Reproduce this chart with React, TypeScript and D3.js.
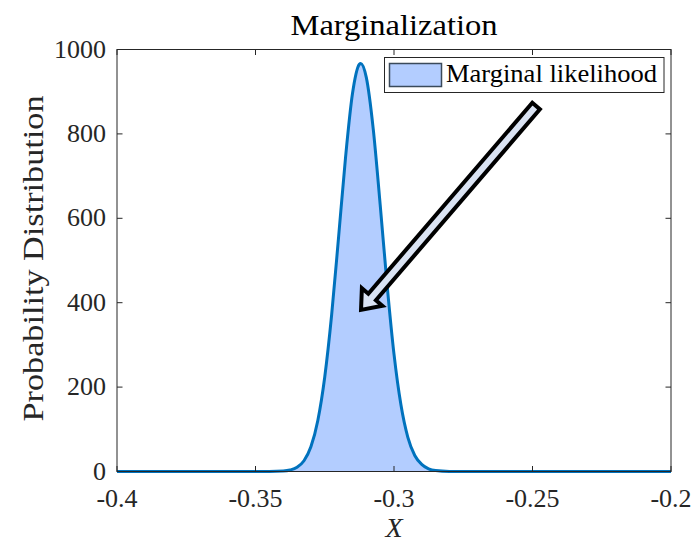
import React from "react";
import * as d3 from "d3";

const xValues = [
  -0.4, -0.345, -0.34, -0.3375, -0.335, -0.3325, -0.33, -0.3275, -0.325, -0.3225, -0.32,
  -0.3175, -0.315, -0.3125, -0.312, -0.31, -0.3075, -0.305, -0.3025, -0.3, -0.2975, -0.295,
  -0.2925, -0.29, -0.2875, -0.285, -0.28, -0.275, -0.2,
];
const yValues = [
  0, 0.1, 1.1, 3.5, 9.9, 25.5, 58.5, 121, 224, 372, 556,
  744, 895, 965, 967, 934, 812, 633, 443, 278, 158, 81,
  38, 17, 6.5, 2.3, 0.2, 0, 0,
];
const xTicks = [-0.4, -0.35, -0.3, -0.25, -0.2];
const xTickLabels = ["-0.4", "-0.35", "-0.3", "-0.25", "-0.2"];
const yTicks = [0, 200, 400, 600, 800, 1000];
const yTickLabels = ["0", "200", "400", "600", "800", "1000"];
const titleText = "Marginalization";
const xLabelText = "X";
const yLabelText = "Probability Distribution";
const legendLabel = "Marginal likelihood";
// arrow annotation (data units): tail and tip
const arrowTail = [-0.2487, 866];
const arrowTip = [-0.3119, 383];

const W = 698;
const H = 544;
const L = 117, R = 671, T = 49.5, B = 471.5;
const AX = "#262626";
const FONT = "Liberation Serif, DejaVu Serif, serif";

export default function App() {
  const x = d3.scaleLinear().domain([-0.4, -0.2]).range([L, R]);
  const y = d3.scaleLinear().domain([0, 1000]).range([B, T]);
  const pts = xValues.map((v, i) => [v, yValues[i]] as [number, number]);
  const line = d3.line<[number, number]>().x(d => x(d[0])).y(d => y(d[1])).curve(d3.curveMonotoneX);
  const area = d3.area<[number, number]>().x(d => x(d[0])).y0(y(0)).y1(d => y(d[1])).curve(d3.curveMonotoneX);

  const tx = x(arrowTail[0]), ty = y(arrowTail[1]);
  const hx = x(arrowTip[0]), hy = y(arrowTip[1]);
  const dx = hx - tx, dy = hy - ty;
  const len = Math.sqrt(dx * dx + dy * dy);
  const ux = dx / len, uy = dy / len;
  const nx = -uy, ny = ux;
  const sw = 5, hl = 17, hw = 13.5;
  const nkx = hx - ux * hl, nky = hy - uy * hl;
  const poly = [
    [tx + nx * sw, ty + ny * sw],
    [nkx + nx * sw, nky + ny * sw],
    [nkx + nx * hw, nky + ny * hw],
    [hx, hy],
    [nkx - nx * hw, nky - ny * hw],
    [nkx - nx * sw, nky - ny * sw],
    [tx - nx * sw, ty - ny * sw],
  ].map(p => p.join(",")).join(" ");

  const tk = 5.5;
  const ts = { fontFamily: FONT };

  return (
    <svg width={W} height={H} style={{ position: "absolute", left: 0, top: 0, background: "#fff", fontFamily: FONT }}>
      <rect x={0} y={0} width={W} height={H} fill="#fff" />
      <path d={area(pts) || ""} fill="#B3CDFF" stroke="none" />
      <path d={line(pts) || ""} fill="none" stroke="#0072BD" strokeWidth={3} />
      <rect x={L} y={T} width={R - L} height={B - T} fill="none" stroke={AX} strokeWidth={1} />
      {xTicks.map((t, i) => (
        <g key={"xt" + i}>
          <line x1={x(t)} x2={x(t)} y1={B} y2={B - tk} stroke={AX} />
          <line x1={x(t)} x2={x(t)} y1={T} y2={T + tk} stroke={AX} />
          <text x={x(t)} y={506.5} fontSize={26} fill={AX} textAnchor="middle" style={ts}>{xTickLabels[i]}</text>
        </g>
      ))}
      {yTicks.map((t, i) => (
        <g key={"yt" + i}>
          <line x1={L} x2={L + tk} y1={y(t)} y2={y(t)} stroke={AX} />
          <line x1={R} x2={R - tk} y1={y(t)} y2={y(t)} stroke={AX} />
          <text x={106} y={y(t) + 8} fontSize={26} fill={AX} textAnchor="end" style={ts}>{yTickLabels[i]}</text>
        </g>
      ))}
      <text x={(L + R) / 2} y={35} fontSize={29} fill="#000" textAnchor="middle" textLength={207} lengthAdjust="spacingAndGlyphs" style={ts}>{titleText}</text>
      <text x={(L + R) / 2} y={537} fontSize={28} fill={AX} textAnchor="middle" fontStyle="italic" style={ts}>{xLabelText}</text>
      <text transform={`translate(43,${(T + B) / 2 - 2}) rotate(-90)`} fontSize={30} fill={AX} textAnchor="middle" textLength={326} lengthAdjust="spacingAndGlyphs" style={ts}>{yLabelText}</text>
      <rect x={384.5} y={57.5} width={279.5} height={35} fill="#fff" stroke={AX} strokeWidth={1} />
      <rect x={389.5} y={63.5} width={52} height={23} fill="#B3CDFF" stroke="#3a4a5a" strokeWidth={1.5} />
      <text x={446} y={82} fontSize={25} fill="#000" textLength={211} lengthAdjust="spacingAndGlyphs" style={ts}>{legendLabel}</text>
      <polygon points={poly} fill="#DAE3F3" stroke="#000" strokeWidth={4} strokeLinejoin="miter" />
    </svg>
  );
}
